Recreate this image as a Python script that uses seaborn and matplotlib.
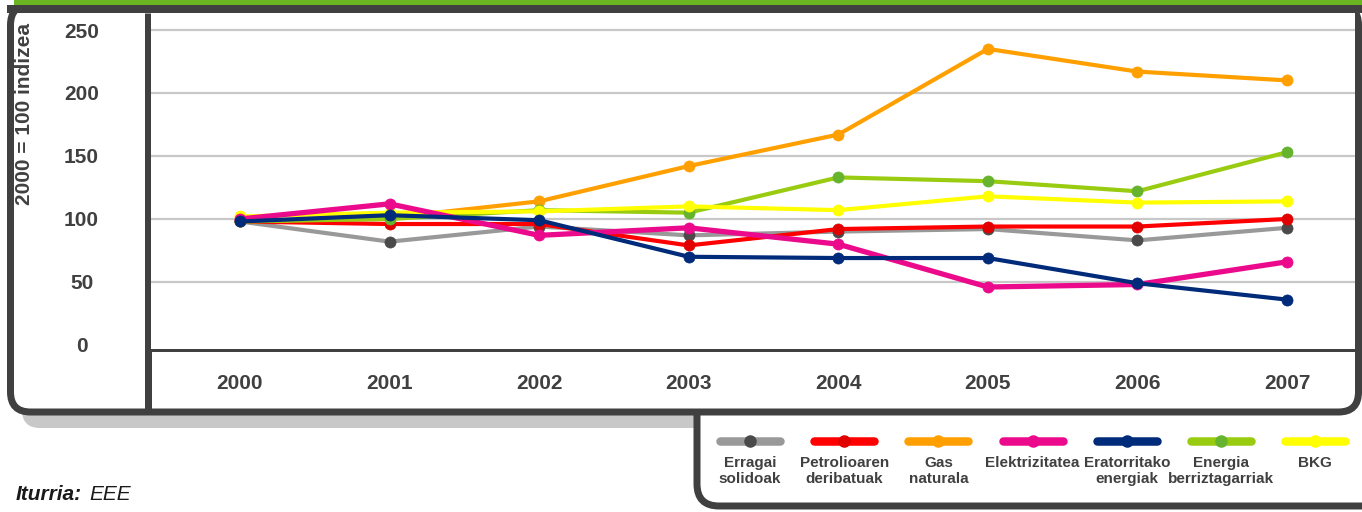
import numpy as np
import pandas as pd
import matplotlib
matplotlib.use("Agg")
import matplotlib.pyplot as plt
from matplotlib.patches import FancyBboxPatch, Rectangle
import seaborn as sns

# ---------------- data ----------------
years = [2000, 2001, 2002, 2003, 2004, 2005, 2006, 2007]
erragai_solidoak = [98, 82, 94, 87, 90, 92, 83, 93]
petrolioaren_deribatuak = [98, 96, 96, 79, 92, 94, 94, 100]
gas_naturala = [98, 101, 114, 142, 167, 235, 217, 210]
elektrizitatea = [100, 112, 87, 93, 80, 46, 48, 66]
eratorritako_energiak = [98, 103, 99, 70, 69, 69, 49, 36]
energia_berriztagarriak = [98, 100, 107, 105, 133, 130, 122, 153]
bkg = [102, 105, 106, 110, 107, 118, 113, 114]

series_labels = ["Erragai\nsolidoak", "Petrolioaren\nderibatuak", "Gas\nnaturala",
                 "Elektrizitatea", "Eratorritako\nenergiak", "Energia\nberriztagarriak", "BKG"]
y_ticks = [0, 50, 100, 150, 200, 250]
y_label = "2000 = 100 indizea"
source_bold = "Iturria:"
source_rest = "EEE"

series_values = [erragai_solidoak, petrolioaren_deribatuak, gas_naturala,
                 elektrizitatea, eratorritako_energiak, energia_berriztagarriak, bkg]

# ---------------- styles ----------------
line_colors = ["#999999", "#ff0000", "#ffa000", "#ec0a8c", "#002a7a", "#99cc11", "#ffff00"]
marker_colors = ["#4a4a4a", "#e00000", "#ffa000", "#ec0a8c", "#002a7a", "#66b32e", "#ffff00"]
line_widths = [3.0, 3.0, 3.0, 3.8, 3.0, 3.0, 3.0]
draw_order = [0, 1, 2, 5, 6, 3, 4]

sns.set_theme(style="white")
plt.rcParams["font.family"] = ["Liberation Sans", "DejaVu Sans"]
TXT = "#404040"
DARK = "#404040"

W, H = 1362, 512
fig = plt.figure(figsize=(W / 100, H / 100), dpi=100)
px = 72 / 100  # points per pixel

# background/frame axes in pixel coordinates
bg = fig.add_axes([0, 0, 1, 1], zorder=0)
bg.set_xlim(0, W)
bg.set_ylim(H, 0)
bg.axis("off")

# shadow below main frame
bg.add_patch(FancyBboxPatch((22, 380), 700, 48, boxstyle="round,pad=0,rounding_size=18",
                            fc="#c8c8c8", ec="none", zorder=1))
# legend box (upper part hidden behind main frame)
bg.add_patch(FancyBboxPatch((697, 300), 720, 206, boxstyle="round,pad=0,rounding_size=22",
                            fc="white", ec=DARK, lw=7 * px, zorder=2))
# main frame
bg.add_patch(FancyBboxPatch((10.5, 5), 1348, 407, boxstyle="round,pad=0,rounding_size=20",
                            fc="white", ec=DARK, lw=7 * px, zorder=3))
# top bands
bg.add_patch(Rectangle((7, 5), W, 8, fc=DARK, ec="none", zorder=4))
bg.add_patch(Rectangle((14, 0), W, 5, fc="#6ab521", ec="none", zorder=4))
# separator between y labels and plot
bg.plot([147.5, 147.5], [13, 412], color=DARK, lw=7 * px, zorder=4, solid_capstyle="butt")

# y label
bg.text(25, 114, y_label, rotation=90, ha="center", va="center",
        fontsize=15, fontweight="bold", color=TXT, zorder=5)

# source
bg.text(16, 495, source_bold, ha="left", va="center", fontsize=15,
        fontweight="bold", fontstyle="italic", color="#1a1a1a", zorder=5)
bg.text(89, 495, source_rest, ha="left", va="center", fontsize=15,
        fontstyle="italic", color="#1a1a1a", zorder=5)

# ---------------- main chart ----------------
ax_l, ax_r, ax_t, ax_b = 151, 1355, 13, 350
ax = fig.add_axes([ax_l / W, 1 - ax_b / H, (ax_r - ax_l) / W, (ax_b - ax_t) / H], zorder=2)
ax.set_facecolor("white")

for i in draw_order:
    sns.lineplot(x=years, y=series_values[i], ax=ax, color=line_colors[i],
                 lw=line_widths[i], marker="o", markersize=8,
                 markerfacecolor=marker_colors[i], markeredgecolor=marker_colors[i],
                 markeredgewidth=0.5, legend=False)

ax.set_xlim(1999.405, 2007.455)
ax.set_ylim(-4, 263.5)
ax.set_yticks(y_ticks)
ax.set_yticklabels([str(v) for v in y_ticks])
ax.set_xticks(years)
ax.set_xticklabels([str(y) for y in years])
ax.set_xticks([y + 0.5 for y in years[:-1]], minor=True)

ax.grid(False)
for v in y_ticks[1:]:
    ax.axhline(v, color="#c8c8c8", lw=1.6, zorder=0)
ax.set_axisbelow(True)

for s in ["top", "right", "left"]:
    ax.spines[s].set_visible(False)
ax.spines["bottom"].set_color(DARK)
ax.spines["bottom"].set_linewidth(3 * px)

ax.tick_params(axis="x", which="major", length=0, pad=17, labelsize=15, labelcolor=TXT)
ax.tick_params(axis="x", which="minor", length=12, width=2.2, color=DARK, direction="out")
ax.tick_params(axis="y", length=0, pad=50, labelsize=15, labelcolor=TXT)
for lbl in ax.get_yticklabels():
    lbl.set_ha("center")
    lbl.set_fontweight("bold")
for lbl in ax.get_xticklabels():
    lbl.set_fontweight("bold")
ax.set_xlabel("")
ax.set_ylabel("")

# ---------------- legend ----------------
leg = fig.add_axes([700 / W, 1 - 500 / H, (W - 700) / W, 75 / H], zorder=3)
leg.set_xlim(700, W)
leg.set_ylim(500, 425)
leg.axis("off")
for i, name in enumerate(series_labels):
    cx = 750 + 94.2 * i
    leg.plot([cx - 30, cx + 30], [441, 441], color=line_colors[i], lw=8.5 * px,
             solid_capstyle="round")
    leg.plot([cx], [441], marker="o", markersize=8, color=marker_colors[i],
             markeredgecolor=marker_colors[i])
    ty = 471 if "\n" in name else 463
    leg.text(cx, ty, name, ha="center", va="center", fontsize=11,
             fontweight="bold", color=TXT, linespacing=1.1)

fig.savefig("out.png", dpi=100)
